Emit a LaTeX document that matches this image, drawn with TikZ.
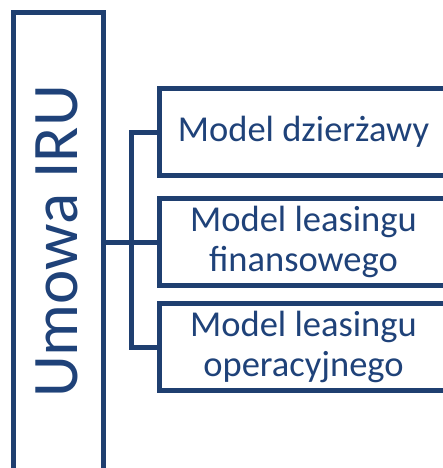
\documentclass[tikz,border=0pt]{standalone}
\usepackage{fontspec}
\setmainfont{Carlito}
\definecolor{navy}{HTML}{1F3F70}
\definecolor{navytext}{HTML}{1F4279}
\begin{document}
\begin{tikzpicture}[x=1pt,y=-1pt,
  frame/.style={draw=navy,line width=5pt,rectangle,inner sep=0pt},
  modelbox/.style={frame,minimum width=288pt,minimum height=87.5pt},
  boxtext/.style={text=navytext,font=\fontsize{36.5}{40}\selectfont,align=center,inner sep=0pt},
  conn/.style={draw=navy,line width=5pt,line join=miter}]
\clip (0,0) rectangle (443,468);
\useasboundingbox (0,0) rectangle (443,468);
\node[frame,minimum width=90pt,minimum height=480pt] (iru) at (58.5,252.5) {};
\node[rotate=90,text=navytext,font=\fontsize{65}{75}\selectfont,inner sep=0pt] (iruText) at (57,241.5) {Umowa IRU};
\node[modelbox] (b1) at (303.5,132) {};
\node[modelbox] (b2) at (303.5,242) {};
\node[modelbox] (b3) at (303.5,347) {};
\node[boxtext] (t1) at (b1.center) {Model dzierżawy};
\node[boxtext] (t2) at (b2.center) {Model leasingu\\finansowego};
\node[boxtext] (t3) at (b3.center) {Model leasingu\\operacyjnego};
\coordinate (jtop) at (131.5,132);
\draw[conn] (b1.west) -- (jtop) |- (b3.west);
\draw[conn] (iru.east |- b2.west) -- (b2.west);
\end{tikzpicture}
\end{document}
